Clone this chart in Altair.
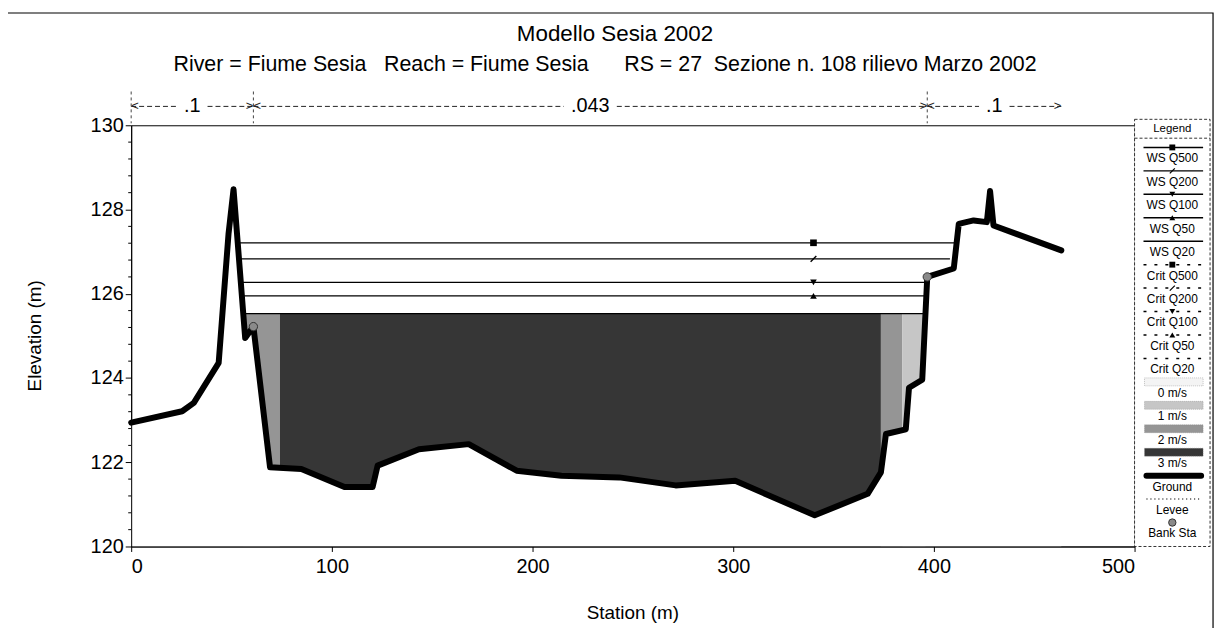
import altair as alt
import pandas as pd

# ---------------- data ----------------
ground_station = [0, 25.4, 31.2, 43.6, 48.5, 51.0, 56.8, 60.9, 69.2, 84.8,
                  106.3, 120.3, 122.8, 143.4, 168.2, 192.1, 214.4, 243.2, 271.3, 301.0,
                  340.6, 367.0, 373.6, 376.1, 386.0, 387.6, 394.2, 396.7, 409.9, 412.4,
                  419.8, 426.4, 428.0, 429.7, 463.5]
ground_elev = [122.94, 123.21, 123.41, 124.36, 127.42, 128.48, 124.95, 125.22, 121.88, 121.84,
               121.41, 121.41, 121.92, 122.31, 122.43, 121.80, 121.68, 121.64, 121.45, 121.56,
               120.74, 121.25, 121.76, 122.67, 122.78, 123.77, 123.96, 126.40, 126.60, 127.66,
               127.74, 127.70, 128.44, 127.62, 127.03]

ws_flow = ["Q500", "Q200", "Q100", "Q50", "Q20"]
ws_elev = [127.21, 126.83, 126.27, 125.95, 125.53]
ws_left = [53.5, 54.0, 55.0, 55.3, 56.0]
ws_right = [410.5, 408.0, 396.5, 396.0, 395.5]
marker_station = [340, 340, 340, 340]

vel_start = [55.8, 74.1, 373.6, 384.3]
vel_end = [74.1, 373.6, 384.3, 395.8]
vel_class = ["2 m/s", "3 m/s", "2 m/s", "1 m/s"]
vel_labels = ["0 m/s", "1 m/s", "2 m/s", "3 m/s"]
vel_colors = ["#f4f4f4", "#c6c6c6", "#959595", "#363636"]

bank_station = [60.9, 396.7]
bank_elev = [125.22, 126.40]

n_start = [0, 60.9, 396.7]
n_end = [60.9, 396.7, 463.5]
n_label = [".1", ".043", ".1"]

legend_labels = ["WS Q500", "WS Q200", "WS Q100", "WS Q50", "WS Q20",
                 "Crit Q500", "Crit Q200", "Crit Q100", "Crit Q50", "Crit Q20",
                 "0 m/s", "1 m/s", "2 m/s", "3 m/s", "Ground", "Levee", "Bank Sta"]
legend_kind = ["ws"] * 5 + ["crit"] * 5 + ["vel"] * 4 + ["ground", "levee", "bank"]
legend_flow = ws_flow + ws_flow + ["", "", "", "", "", "", ""]

x_ticks = [0, 100, 200, 300, 400, 500]
y_ticks = [120, 122, 124, 126, 128, 130]
y_minor = [120.4, 120.8, 121.2, 121.6, 122.4, 122.8, 123.2, 123.6,
           124.4, 124.8, 125.2, 125.6, 126.4, 126.8, 127.2, 127.6,
           128.4, 128.8, 129.2, 129.6]

NB = "\u00a0"
title_text = "Modello Sesia 2002"
subtitle_text = ("River = Fiume Sesia" + NB * 3 + "Reach = Fiume Sesia" + NB * 6 +
                 "RS = 27" + NB * 2 + "Sezione n. 108 rilievo Marzo 2002")
x_title = "Station (m)"
y_title = "Elevation (m)"

# ---------------- chart ----------------
FONT = "Liberation Sans"
W, H = 1010, 424
xs = alt.Scale(domain=[x_ticks[0], x_ticks[-1]], nice=False, zero=False)
ys = alt.Scale(domain=[y_ticks[0], y_ticks[-1]], nice=False, zero=False)
vel_scale = alt.Scale(domain=vel_labels, range=vel_colors)
shape_scale = alt.Scale(domain=ws_flow[:4],
                        range=["square", "M-1,0.7L0.7,-1L1,-0.7L-0.7,1Z",
                               "triangle-down", "triangle-up"])

ground_df = pd.DataFrame({"station": ground_station, "elev": ground_elev})
ws_df = pd.DataFrame({"flow": ws_flow, "elev": ws_elev, "left": ws_left, "right": ws_right})
mk_df = pd.DataFrame({"flow": ws_flow[:4], "elev": ws_elev[:4], "station": marker_station})
vel_df = pd.DataFrame({"s": vel_start, "e": vel_end, "v": vel_class})
bank_df = pd.DataFrame({"station": bank_station, "elev": bank_elev})
n_df = pd.DataFrame({"s": n_start, "e": n_end, "label": n_label})
legend_df = pd.DataFrame({"label": legend_labels, "kind": legend_kind, "flow": legend_flow})
minor_df = pd.DataFrame({"v": y_minor})
one = pd.DataFrame({"k": [0]})

x_axis = alt.Axis(values=x_ticks, title=None, grid=False, labelFontSize=20, labelFont=FONT,
                  tickSize=5, labelPadding=5, domainColor="black", tickColor="black",
                  labelColor="black", zindex=1)
y_axis = alt.Axis(values=y_ticks, title=None, grid=False, labelFontSize=20, labelFont=FONT,
                  tickSize=6, labelPadding=2, domainColor="black", tickColor="black",
                  labelColor="black", zindex=1)

vel_layer = alt.Chart(vel_df).transform_calculate(
    top=str(ws_elev[-1]), bot=str(y_ticks[0])
).mark_rect().encode(
    x=alt.X("s:Q", scale=xs, axis=x_axis),
    x2="e:Q",
    y=alt.Y("top:Q", scale=ys, axis=y_axis),
    y2="bot:Q",
    color=alt.Color("v:N", scale=vel_scale, legend=None),
)

mask = alt.Chart(ground_df).transform_calculate(bot=str(y_ticks[0])).mark_area(
    color="white", opacity=1
).encode(x="station:Q", y="elev:Q", y2="bot:Q")

minor = alt.Chart(minor_df).mark_rule(color="black", strokeWidth=1).encode(
    y="v:Q", x=alt.value(-3), x2=alt.value(0)
)

ws_lines = alt.Chart(ws_df).mark_rule(color="black", strokeWidth=1.2).encode(
    x="left:Q", x2="right:Q", y="elev:Q"
)

ground = alt.Chart(ground_df).mark_line(
    color="black", strokeWidth=6, strokeJoin="round", strokeCap="round"
).encode(x="station:Q", y="elev:Q", order=alt.Order("station:Q"))

banks = alt.Chart(bank_df).mark_point(
    shape="circle", filled=True, color="#8a8a8a", size=70, opacity=1,
    stroke="#333", strokeWidth=1
).encode(x="station:Q", y="elev:Q")

markers = alt.Chart(mk_df).mark_point(filled=True, color="black", size=45, opacity=1).encode(
    x="station:Q", y="elev:Q",
    shape=alt.Shape("flow:N", scale=shape_scale, legend=None),
)

n_base = alt.Chart(n_df).transform_calculate(
    mid="(datum.s + datum.e) / 2",
    gap="2 + 2.8 * length(datum.label)",
).transform_calculate(a2="datum.mid - datum.gap", b1="datum.mid + datum.gap")
n_seg1 = n_base.mark_rule(color="#222", strokeWidth=1, strokeDash=[5, 3]).encode(
    x="s:Q", x2="a2:Q", y=alt.value(-19))
n_seg2 = n_base.mark_rule(color="#222", strokeWidth=1, strokeDash=[5, 3]).encode(
    x="b1:Q", x2="e:Q", y=alt.value(-19))
n_text = n_base.mark_text(fontSize=20, font=FONT, color="black", baseline="middle").encode(
    x="mid:Q", y=alt.value(-19), text="label:N")
n_arrow_l = n_base.mark_text(text="<", fontSize=13, font=FONT, color="#222",
                             align="left", baseline="middle").encode(
    x="s:Q", y=alt.value(-19))
n_arrow_r = n_base.mark_text(text=">", fontSize=13, font=FONT, color="#222",
                             align="right", baseline="middle").encode(
    x="e:Q", y=alt.value(-19))
n_ticks = alt.Chart(n_df).mark_rule(color="#444", strokeWidth=1, strokeDash=[3, 3]).encode(
    x="s:Q", y=alt.value(-34), y2=alt.value(-2))

title = alt.Chart(one).mark_text(text=title_text, fontSize=22.5, font=FONT, color="black",
                                 baseline="middle").encode(x=alt.value(487), y=alt.value(-92))
subtitle = alt.Chart(one).mark_text(text=subtitle_text, fontSize=21.5, font=FONT, color="black",
                                    baseline="middle").encode(x=alt.value(477), y=alt.value(-61))
xt = alt.Chart(one).mark_text(text=x_title, fontSize=19, font=FONT, color="black",
                              baseline="middle").encode(x=alt.value(505), y=alt.value(491))
yt = alt.Chart(one).mark_text(text=y_title, fontSize=19, font=FONT, color="black",
                              baseline="middle", angle=270).encode(x=alt.value(-97), y=alt.value(212))

frame = alt.Chart(one).mark_rect(fill=None, stroke="black", strokeWidth=1.2).encode(
    x=alt.value(-129), x2=alt.value(1089), y=alt.value(-113), y2=alt.value(520))

LX0, LX1 = 1010, 1086
LC = (LX0 + LX1) / 2
leg_box = alt.Chart(one).mark_rect(fill="white", stroke="#333", strokeWidth=1,
                                   strokeDash=[3, 2]).encode(
    x=alt.value(LX0), x2=alt.value(LX1), y=alt.value(-6), y2=alt.value(H))
leg_head_line = alt.Chart(one).mark_rule(color="#333", strokeWidth=1, strokeDash=[3, 2]).encode(
    x=alt.value(LX0), x2=alt.value(LX1), y=alt.value(13))
leg_head = alt.Chart(one).mark_text(text="Legend", fontSize=11.5, font=FONT, color="black",
                                    baseline="middle").encode(x=alt.value(LC), y=alt.value(4))

leg = alt.Chart(legend_df).transform_window(idx="row_number()").transform_calculate(
    ty="33.3 + (datum.idx - 1) * 23.6"
).transform_calculate(sy="datum.ty - 11", s1="datum.ty - 15", s2="datum.ty - 7")

leg_text = leg.mark_text(fontSize=12, font=FONT, color="black", baseline="middle").encode(
    x=alt.value(LC), y=alt.Y("ty:Q", scale=None, axis=None), text="label:N")
leg_ws = leg.transform_filter(alt.datum.kind == "ws").mark_rule(
    color="black", strokeWidth=1.5).encode(
    x=alt.value(LX0 + 9), x2=alt.value(LX1 - 7), y=alt.Y("sy:Q", scale=None, axis=None))
leg_crit = leg.transform_filter(alt.datum.kind == "crit").mark_rule(
    color="black", strokeWidth=1.5, strokeDash=[3, 8]).encode(
    x=alt.value(LX0 + 9), x2=alt.value(LX1 - 7), y=alt.Y("sy:Q", scale=None, axis=None))
leg_mk = leg.transform_filter(
    "indexof(['Q500','Q200','Q100','Q50'], datum.flow) >= 0"
).mark_point(filled=True, color="black", size=35, opacity=1).encode(
    x=alt.value(LC), y=alt.Y("sy:Q", scale=None, axis=None),
    shape=alt.Shape("flow:N", scale=shape_scale, legend=None))
leg_vel = leg.transform_filter(alt.datum.kind == "vel").mark_rect(
    stroke="#888", strokeWidth=0.5, strokeDash=[1, 1]).encode(
    x=alt.value(LX0 + 10), x2=alt.value(LX1 - 7),
    y=alt.Y("s1:Q", scale=None, axis=None), y2="s2:Q",
    color=alt.Color("label:N", scale=vel_scale, legend=None))
leg_ground = leg.transform_filter(alt.datum.kind == "ground").mark_rule(
    color="black", strokeWidth=6, strokeCap="round").encode(
    x=alt.value(LX0 + 12), x2=alt.value(LX1 - 9), y=alt.Y("sy:Q", scale=None, axis=None))
leg_levee = leg.transform_filter(alt.datum.kind == "levee").mark_rule(
    color="#333", strokeWidth=1.5, strokeDash=[1, 3]).encode(
    x=alt.value(LX0 + 12), x2=alt.value(LX1 - 9), y=alt.Y("sy:Q", scale=None, axis=None))
leg_bank = leg.transform_filter(alt.datum.kind == "bank").mark_point(
    shape="circle", filled=True, color="#8a8a8a", size=55, opacity=1,
    stroke="#333", strokeWidth=1).encode(
    x=alt.value(LC), y=alt.Y("sy:Q", scale=None, axis=None))

chart = alt.layer(
    frame, vel_layer, mask, minor, ws_lines, ground, banks, markers,
    n_ticks, n_seg1, n_seg2, n_text, n_arrow_l, n_arrow_r,
    title, subtitle, xt, yt,
    leg_box, leg_head_line, leg_head, leg_ws, leg_crit, leg_mk, leg_vel,
    leg_ground, leg_levee, leg_bank, leg_text,
).properties(
    width=W, height=H,
    autosize=alt.AutoSizeParams(type="none"),
    padding={"left": 124, "top": 116, "right": 85, "bottom": 80},
    background="white",
).configure_view(
    stroke="black", strokeWidth=1
)

chart.save("out.html", embed_options={"renderer": "svg", "actions": False})
